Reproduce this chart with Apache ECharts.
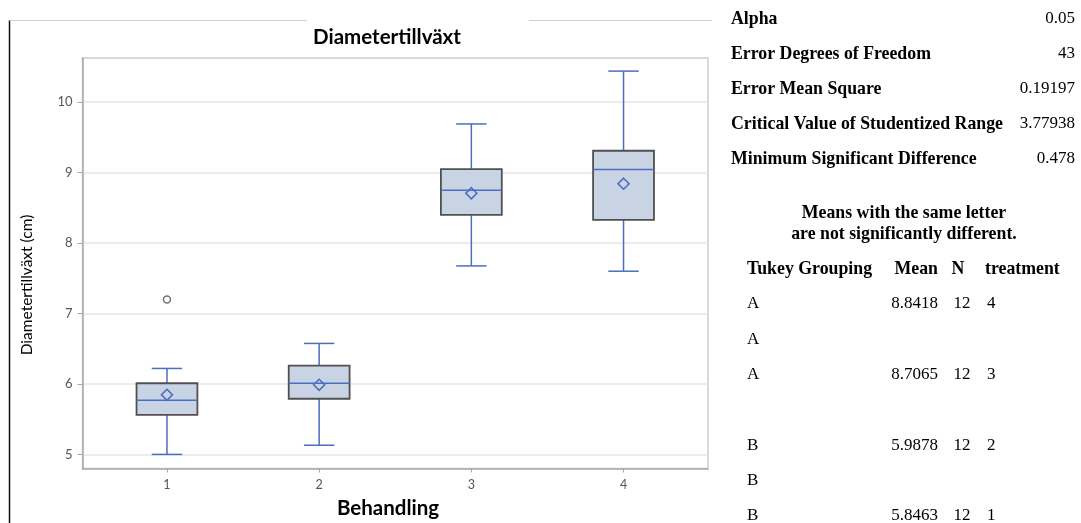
<!DOCTYPE html>
<html>
<head>
<meta charset="utf-8">
<style>
  html, body { margin: 0; padding: 0; background: #fff; }
  #chart { width: 1081px; height: 523px; }
</style>
<script src="https://cdn.jsdelivr.net/npm/echarts@6/dist/echarts.min.js"></script>
</head>
<body>
<div id="chart"></div>
<script>
// Box plot statistics per treatment group
const categories = [1, 2, 3, 4];
const whiskerLow = [5.00, 5.13, 7.675, 7.60];
const q1 = [5.56, 5.79, 8.40, 8.33];
const median = [5.77, 6.01, 8.75, 9.045];
const q3 = [6.01, 6.26, 9.05, 9.31];
const whiskerHigh = [6.22, 6.575, 9.69, 10.44];
const means = [5.8463, 5.9878, 8.7065, 8.8418];
const outliers = [[1, 7.20]];
const yTicks = [5, 6, 7, 8, 9, 10];

// Tukey test summary
const statLabels = ['Alpha', 'Error Degrees of Freedom', 'Error Mean Square',
  'Critical Value of Studentized Range', 'Minimum Significant Difference'];
const statValues = ['0.05', '43', '0.19197', '3.77938', '0.478'];
const tukeyHeader = ['Tukey Grouping', 'Mean', 'N', 'treatment'];
const tukeyLetters = ['A', 'A', 'A', '', 'B', 'B', 'B'];
const tukeyMeans = ['8.8418', '', '8.7065', '', '5.9878', '', '5.8463'];
const tukeyN = ['12', '', '12', '', '12', '', '12'];
const tukeyTreatment = ['4', '', '3', '', '2', '', '1'];

const BLUE = '#4a6ec2';
const FILL = '#c8d3e4';
const EDGE = '#505050';
const SERIF = '"Liberation Serif", "Times New Roman", serif';
const SANS = 'Lato, "Open Sans", sans-serif';
const BOLD_SERIF = 'bold 17.8px ' + SERIF;
const REG_SERIF = '17px ' + SERIF;

const boxData = categories.map((c, i) =>
  [c, whiskerLow[i], q1[i], median[i], q3[i], whiskerHigh[i], means[i]]);

function renderBox(params, api) {
  const x = api.value(0);
  const lo = api.coord([x, api.value(1)]);
  const b1 = api.coord([x, api.value(2)]);
  const md = api.coord([x, api.value(3)]);
  const b3 = api.coord([x, api.value(4)]);
  const hi = api.coord([x, api.value(5)]);
  const mn = api.coord([x, api.value(6)]);
  const halfBox = api.size([0.4, 0])[0] / 2;
  const halfCap = api.size([0.2, 0])[0] / 2;
  const d = 5.5;
  const line = { stroke: BLUE, lineWidth: 1.5, fill: null };
  return {
    type: 'group',
    children: [
      { type: 'line', shape: { x1: lo[0], y1: lo[1], x2: b1[0], y2: b1[1] }, style: line },
      { type: 'line', shape: { x1: b3[0], y1: b3[1], x2: hi[0], y2: hi[1] }, style: line },
      { type: 'line', shape: { x1: lo[0] - halfCap, y1: lo[1], x2: lo[0] + halfCap, y2: lo[1] }, style: line },
      { type: 'line', shape: { x1: hi[0] - halfCap, y1: hi[1], x2: hi[0] + halfCap, y2: hi[1] }, style: line },
      { type: 'rect', shape: { x: b3[0] - halfBox, y: b3[1], width: halfBox * 2, height: b1[1] - b3[1] },
        style: { fill: FILL, stroke: EDGE, lineWidth: 1.8 } },
      { type: 'line', shape: { x1: md[0] - halfBox, y1: md[1], x2: md[0] + halfBox, y2: md[1] }, style: line },
      { type: 'polygon', shape: { points: [[mn[0], mn[1] - d], [mn[0] + d, mn[1]], [mn[0], mn[1] + d], [mn[0] - d, mn[1]]] },
        style: { fill: 'none', stroke: BLUE, lineWidth: 1.6 } }
    ]
  };
}

// Text panel beside the plot
const graphics = [];
function txt(x, y, text, opts) {
  graphics.push({
    type: 'text', x: x, y: y,
    style: Object.assign({ text: text, fill: '#000', font: REG_SERIF, verticalAlign: 'middle', align: 'left' }, opts || {})
  });
}
statLabels.forEach((s, i) => {
  const y = 19 + i * 35;
  txt(731, y, s, { font: BOLD_SERIF });
  txt(1075, y, statValues[i], { align: 'right' });
});
txt(904, 213, 'Means with the same letter', { font: BOLD_SERIF, align: 'center' });
txt(904, 234, 'are not significantly different.', { font: BOLD_SERIF, align: 'center' });
txt(747, 269, tukeyHeader[0], { font: BOLD_SERIF });
txt(938, 269, tukeyHeader[1], { font: BOLD_SERIF, align: 'right' });
txt(958, 269, tukeyHeader[2], { font: BOLD_SERIF, align: 'center' });
txt(985, 269, tukeyHeader[3], { font: BOLD_SERIF });
tukeyLetters.forEach((l, i) => {
  const y = 304 + i * 35.3;
  if (l) txt(747, y, l);
  if (tukeyMeans[i]) txt(938, y, tukeyMeans[i], { align: 'right' });
  if (tukeyN[i]) txt(962, y, tukeyN[i], { align: 'center' });
  if (tukeyTreatment[i]) txt(987, y, tukeyTreatment[i]);
});

// Chart title, axis names and the surrounding frame lines
graphics.push({ type: 'text', x: 387, y: 37,
  style: { text: 'Diametertillväxt', font: 'bold 20.5px ' + SANS, fill: '#000', align: 'center', verticalAlign: 'middle' } });
graphics.push({ type: 'text', x: 388, y: 508,
  style: { text: 'Behandling', font: 'bold 20.5px ' + SANS, fill: '#000', align: 'center', verticalAlign: 'middle' } });
graphics.push({ type: 'text', x: 27, y: 285, rotation: Math.PI / 2,
  style: { text: 'Diametertillväxt (cm)', font: '15.5px ' + SANS, fill: '#000', align: 'center', verticalAlign: 'middle' } });
graphics.push({ type: 'line', shape: { x1: 9.5, y1: 20.5, x2: 9.5, y2: 523 }, style: { stroke: '#111', lineWidth: 1.5 } });
graphics.push({ type: 'line', shape: { x1: 10, y1: 20.5, x2: 307, y2: 20.5 }, style: { stroke: '#cfcfcf', lineWidth: 1 } });
graphics.push({ type: 'line', shape: { x1: 529, y1: 20.5, x2: 712, y2: 20.5 }, style: { stroke: '#cfcfcf', lineWidth: 1 } });

const chart = echarts.init(document.getElementById('chart'), null, { renderer: 'canvas' });
chart.setOption({
  animation: false,
  backgroundColor: '#fff',
  grid: {
    left: 82.5, right: 1081 - 708, top: 58, bottom: 523 - 468.5,
    show: true, borderColor: '#cdcdcd', borderWidth: 1.5
  },
  xAxis: {
    type: 'value', min: 0.445, max: 4.555,
    axisLine: { show: true, onZero: false, lineStyle: { color: '#a9a9a9', width: 1.5 } },
    axisTick: { show: true, customValues: categories, length: 4, lineStyle: { color: '#a9a9a9' } },
    axisLabel: { customValues: categories, color: '#555', fontSize: 12.5, fontFamily: SANS, margin: 10 },
    splitLine: { show: false }
  },
  yAxis: {
    type: 'value', min: 4.8, max: 10.626,
    axisLine: { show: true, onZero: false, lineStyle: { color: '#a9a9a9', width: 1.5 } },
    axisTick: { show: true, customValues: yTicks, length: 5, lineStyle: { color: '#a9a9a9' } },
    axisLabel: { customValues: yTicks, color: '#555', fontSize: 13, fontFamily: SANS, margin: 10 },
    splitLine: { show: true, lineStyle: { color: '#e6e6e6', width: 1.5 } }
  },
  series: [
    {
      type: 'custom',
      renderItem: renderBox,
      data: boxData,
      encode: { x: 0, y: [1, 2, 3, 4, 5, 6] },
      z: 3
    },
    {
      type: 'scatter',
      data: outliers,
      symbol: 'circle',
      symbolSize: 7,
      itemStyle: { color: '#fff', borderColor: EDGE, borderWidth: 1.5 },
      z: 4
    }
  ],
  graphic: graphics
});
</script>
</body>
</html>
